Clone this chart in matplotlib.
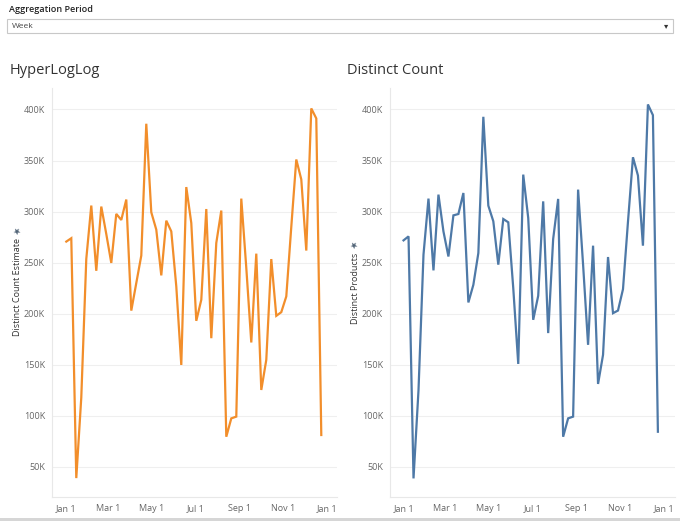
import matplotlib
matplotlib.use("Agg")
import matplotlib.pyplot as plt
import matplotlib.dates as mdates
from matplotlib.ticker import FuncFormatter, FixedLocator
from matplotlib.patches import Rectangle
import datetime as dt

plt.rcParams['font.family'] = ['Open Sans', 'DejaVu Sans']

# ---- data (values in thousands) ----
week_start = dt.date(2017, 1, 1)
n_weeks = 52
weeks = [week_start + dt.timedelta(days=7 * i) for i in range(n_weeks)]

hll_estimate = [270.6, 273.9, 39.0, 118.0, 253.6, 305.9, 242.0, 304.9, 278.0, 249.7,
                297.7, 291.8, 311.8, 203.0, 230.0, 256.9, 386.0, 299.3, 282.3, 237.5,
                291.1, 280.6, 226.7, 149.8, 324.0, 288.8, 193.0, 213.6, 302.5, 176.0,
                269.2, 301.0, 79.5, 97.5, 99.2, 312.7, 245.0, 171.8, 258.8, 125.3,
                154.8, 253.5, 197.9, 201.5, 216.9, 285.0, 351.0, 331.5, 261.8, 401.0,
                391.2, 81.2]

distinct_products = [271.8, 275.7, 38.7, 125.0, 257.8, 312.7, 242.4, 316.6, 280.6, 256.0,
                     296.3, 297.6, 318.2, 211.0, 228.3, 259.4, 392.8, 305.8, 290.5, 248.0,
                     292.7, 289.5, 225.0, 150.8, 336.2, 293.7, 194.0, 217.5, 310.0, 181.0,
                     273.1, 312.4, 79.5, 97.5, 99.2, 321.5, 248.0, 169.5, 266.6, 131.2,
                     159.7, 255.5, 200.5, 203.1, 224.0, 290.0, 353.2, 335.3, 266.6, 404.9,
                     394.4, 84.4]

y_ticks = [50, 100, 150, 200, 250, 300, 350, 400]
x_tick_dates = [dt.date(2017, 1, 1), dt.date(2017, 3, 1), dt.date(2017, 5, 1),
                dt.date(2017, 7, 1), dt.date(2017, 9, 1), dt.date(2017, 11, 1),
                dt.date(2018, 1, 1)]

titles = ["HyperLogLog", "Distinct Count"]
ylabels = ["Distinct Count Estimate", "Distinct Products"]
colors = ["#F28E2B", "#4E79A7"]
series = [hll_estimate, distinct_products]

W, H = 680, 521
fig = plt.figure(figsize=(W / 100, H / 100), dpi=100)
fig.patch.set_facecolor("white")

def fx(px):
    return px / W

def fy(py):
    return 1 - py / H

# ---- parameter control ----
fig.text(fx(9), fy(10), "Aggregation Period", fontsize=6.5, color="#222222",
         fontweight="semibold", va="center", ha="left")
fig.patches.append(Rectangle((fx(7), fy(33)), fx(666), 14 / H,
                             transform=fig.transFigure, facecolor="white",
                             edgecolor="#c8c8c8", linewidth=0.8))
fig.text(fx(12), fy(26), "Week", fontsize=6, color="#444444", va="center", ha="left")
fig.text(fx(666), fy(26), "\u25BE", fontsize=6, color="#333333", va="center", ha="center",
         family="DejaVu Sans")

# bottom gray bar
fig.patches.append(Rectangle((0, 0), 1, 3 / H, transform=fig.transFigure,
                             facecolor="#d6d6d6", edgecolor="none"))

panel_left = [52, 390]
panel_title_x = [10, 347]
ylabel_x = [18, 355]
ylabel_bottom = [336, 324]
ax_top, ax_bottom = 88, 497
ax_w = 285

x_lo_days = [-19.6, -18.7]
x_hi_days = [14.4, 16.4]

for i in range(2):
    ax = fig.add_axes([fx(panel_left[i]), fy(ax_bottom), fx(ax_w),
                       (ax_bottom - ax_top) / H])
    ax.plot(weeks, series[i], color=colors[i], linewidth=1.6, solid_joinstyle="miter")
    ax.set_ylim(20.5, 421.0)
    ax.set_xlim(dt.date(2017, 1, 1) + dt.timedelta(days=x_lo_days[i]),
                dt.date(2018, 1, 1) + dt.timedelta(days=x_hi_days[i]))
    ax.yaxis.set_major_locator(FixedLocator(y_ticks))
    ax.yaxis.set_major_formatter(FuncFormatter(lambda v, p: f"{v:.0f}K"))
    ax.xaxis.set_major_locator(FixedLocator([mdates.date2num(d) for d in x_tick_dates]))
    ax.xaxis.set_major_formatter(FuncFormatter(
        lambda v, p: (lambda d: f"{d.strftime('%b')} {d.day}")(mdates.num2date(v))))
    ax.tick_params(axis="both", length=0, labelsize=6.5, labelcolor="#666666")
    ax.tick_params(axis="y", pad=5)
    ax.tick_params(axis="x", pad=5)
    ax.grid(axis="y", color="#efefef", linewidth=0.8)
    ax.set_axisbelow(True)
    for s in ["top", "right"]:
        ax.spines[s].set_visible(False)
    for s in ["left", "bottom"]:
        ax.spines[s].set_color("#e8e8e8")
        ax.spines[s].set_linewidth(0.8)
    # axis title with separate pin/star icon
    t = fig.text(fx(ylabel_x[i]), fy(ylabel_bottom[i]), ylabels[i], fontsize=6.5,
                 color="#333333", rotation=90, ha="center", va="bottom")
    fig.canvas.draw()
    bb = t.get_window_extent()
    top_px = H - bb.y1
    fig.text(fx(ylabel_x[i]), fy(top_px - 3), "\u2605", fontsize=6.5, color="#4f6275",
             rotation=110, ha="center", va="bottom", family="DejaVu Sans")
    fig.text(fx(panel_title_x[i]), fy(71), titles[i], fontsize=10.5, color="#333333",
             va="center", ha="left")

fig.savefig("out.png", dpi=100)
